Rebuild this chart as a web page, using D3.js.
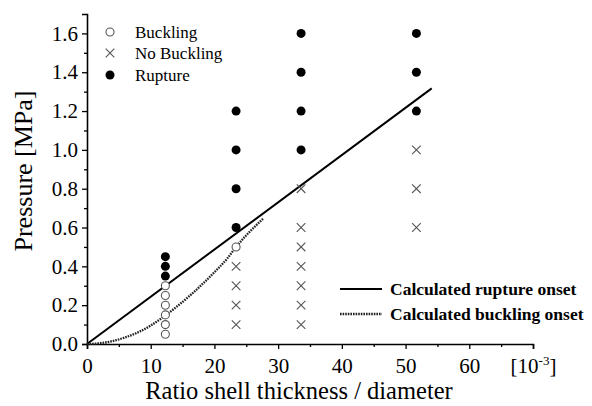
<!DOCTYPE html>
<html><head><meta charset="utf-8">
<script src="https://cdn.jsdelivr.net/npm/d3@7"></script>
<style>body{margin:0;background:#fff}svg{display:block}text{font-family:"Liberation Serif","Times New Roman",serif}</style>
</head><body><svg id="c" width="592" height="406"></svg>
<script>
// Data
const bucklingX = [12.3,12.3,12.3,12.3,12.3,12.3,23.4];
const bucklingY = [0.05,0.10,0.15,0.20,0.25,0.30,0.50];
const noBucklingX = [23.4,23.4,23.4,23.4, 33.6,33.6,33.6,33.6,33.6,33.6,33.6, 51.7,51.7,51.7];
const noBucklingY = [0.1,0.2,0.3,0.4, 0.1,0.2,0.3,0.4,0.5,0.6,0.8, 0.6,0.8,1.0];
const ruptureX = [12.3,12.3,12.3, 23.4,23.4,23.4,23.4, 33.6,33.6,33.6,33.6, 51.7,51.7,51.7];
const ruptureY = [0.35,0.40,0.45, 0.6,0.8,1.0,1.2, 1.0,1.2,1.4,1.6, 1.2,1.4,1.6];
const ruptureLineX = [0, 54.1];
const ruptureLineY = [0, 1.317];
const bucklingLineX = [0,2,4,6,8,10,12,14,16,18,20,22,23.4,25,27.7];
const bucklingLineY = [0,0.004,0.015,0.034,0.06,0.095,0.14,0.19,0.245,0.305,0.37,0.44,0.5,0.56,0.647];
const xTicks = [0,10,20,30,40,50,60,70];
const xTickLabels = ["0","10","20","30","40","50","60","[10^-3]"];
const yTicks = [0,0.2,0.4,0.6,0.8,1.0,1.2,1.4,1.6];
const xMinor = [5,15,25,35,45,55,65];
const yMinor = [0.1,0.3,0.5,0.7,0.9,1.1,1.3,1.5];

const svg = d3.select("#c");
const x = d3.scaleLinear().domain([0,70]).range([87,533]);
const y = d3.scaleLinear().domain([0,1.7]).range([344,14]);
const gray = "#555";

// axes
const xAxis = svg.append("g").attr("transform","translate(0,344)")
  .call(d3.axisBottom(x).tickValues(xTicks).tickSize(5).tickPadding(4).tickFormat(""));
const yAxis = svg.append("g").attr("transform","translate(87,0)")
  .call(d3.axisLeft(y).tickValues(yTicks).tickSize(5).tickPadding(4).tickFormat(d3.format(".1f")));
svg.append("g").attr("transform","translate(0,344)")
  .call(d3.axisBottom(x).tickValues(xMinor).tickSize(3).tickFormat("")).select(".domain").remove();
svg.append("g").attr("transform","translate(87,0)")
  .call(d3.axisLeft(y).tickValues(yMinor).tickSize(3).tickFormat("")).select(".domain").remove();
svg.selectAll(".domain").attr("stroke","#000").attr("stroke-width",1.6);
svg.selectAll(".tick line").attr("stroke","#000").attr("stroke-width",1.3);
yAxis.selectAll("text").style("font-size","21px").attr("fill","#000");

// x tick labels
xAxis.selectAll(".tick").each(function(d,i){
  const t = d3.select(this).append("text").attr("y",29).attr("text-anchor","middle")
    .attr("fill","#000").style("font-size","21px");
  const lab = xTickLabels[i];
  if (lab.startsWith("[10")) {
    t.append("tspan").text("[10");
    t.append("tspan").attr("dy",-8).style("font-size","13px").text("-3");
    t.append("tspan").attr("dy",8).text("]");
  } else t.text(lab);
});

// axis titles
svg.append("text").attr("x",299).attr("y",399).attr("text-anchor","middle")
  .style("font-size","24.5px").text("Ratio shell thickness / diameter");
svg.append("text").attr("transform","translate(32,171) rotate(-90)").attr("text-anchor","middle")
  .style("font-size","26px").text("Pressure [MPa]");

// lines
const ruptureLine = ruptureLineX.map((v,i)=>[v,ruptureLineY[i]]);
const bucklingLine = bucklingLineX.map((v,i)=>[v,bucklingLineY[i]]);
const line = d3.line().x(d=>x(d[0])).y(d=>y(d[1]));
svg.append("path").attr("d",line(ruptureLine)).attr("fill","none").attr("stroke","#000").attr("stroke-width",2);
svg.append("path").attr("d",line.curve(d3.curveMonotoneX)(bucklingLine)).attr("fill","none")
  .attr("stroke","#222").attr("stroke-width",2.3).attr("stroke-dasharray","1.6,1");

// markers
const crossPath = (cx,cy,s)=>`M${cx-s},${cy-s}L${cx+s},${cy+s}M${cx-s},${cy+s}L${cx+s},${cy-s}`;
svg.append("g").selectAll("circle").data(bucklingX).join("circle")
  .attr("cx",d=>x(d)).attr("cy",(d,i)=>y(bucklingY[i])).attr("r",4)
  .attr("fill","#fff").attr("stroke",gray).attr("stroke-width",1.1);
svg.append("g").selectAll("path").data(noBucklingX).join("path")
  .attr("d",(d,i)=>crossPath(x(d),y(noBucklingY[i]),4.3)).attr("stroke",gray).attr("stroke-width",1.1).attr("fill","none");
svg.append("g").selectAll("circle").data(ruptureX).join("circle")
  .attr("cx",d=>x(d)).attr("cy",(d,i)=>y(ruptureY[i])).attr("r",4.5).attr("fill","#000");

// top-left legend
const lg = svg.append("g");
lg.append("circle").attr("cx",110).attr("cy",32).attr("r",4).attr("fill","#fff").attr("stroke",gray).attr("stroke-width",1.1);
lg.append("path").attr("d",crossPath(110,53,4.3)).attr("stroke",gray).attr("stroke-width",1.1);
lg.append("circle").attr("cx",110).attr("cy",75).attr("r",4.5).attr("fill","#000");
[["Buckling",32],["No Buckling",53],["Rupture",75]].forEach(([t,cy])=>{
  lg.append("text").attr("x",135).attr("y",cy+5.5).style("font-size","17px").text(t);
});

// bottom-right legend
const lg2 = svg.append("g");
lg2.append("line").attr("x1",340).attr("x2",382).attr("y1",289).attr("y2",289).attr("stroke","#000").attr("stroke-width",2);
lg2.append("line").attr("x1",340).attr("x2",382).attr("y1",314).attr("y2",314).attr("stroke","#222").attr("stroke-width",2.3).attr("stroke-dasharray","1.6,1");
lg2.append("text").attr("x",390).attr("y",295).style("font-size","17.5px").style("font-weight","bold").text("Calculated rupture onset");
lg2.append("text").attr("x",390).attr("y",320).style("font-size","17.5px").style("font-weight","bold").text("Calculated buckling onset");
</script></body></html>
